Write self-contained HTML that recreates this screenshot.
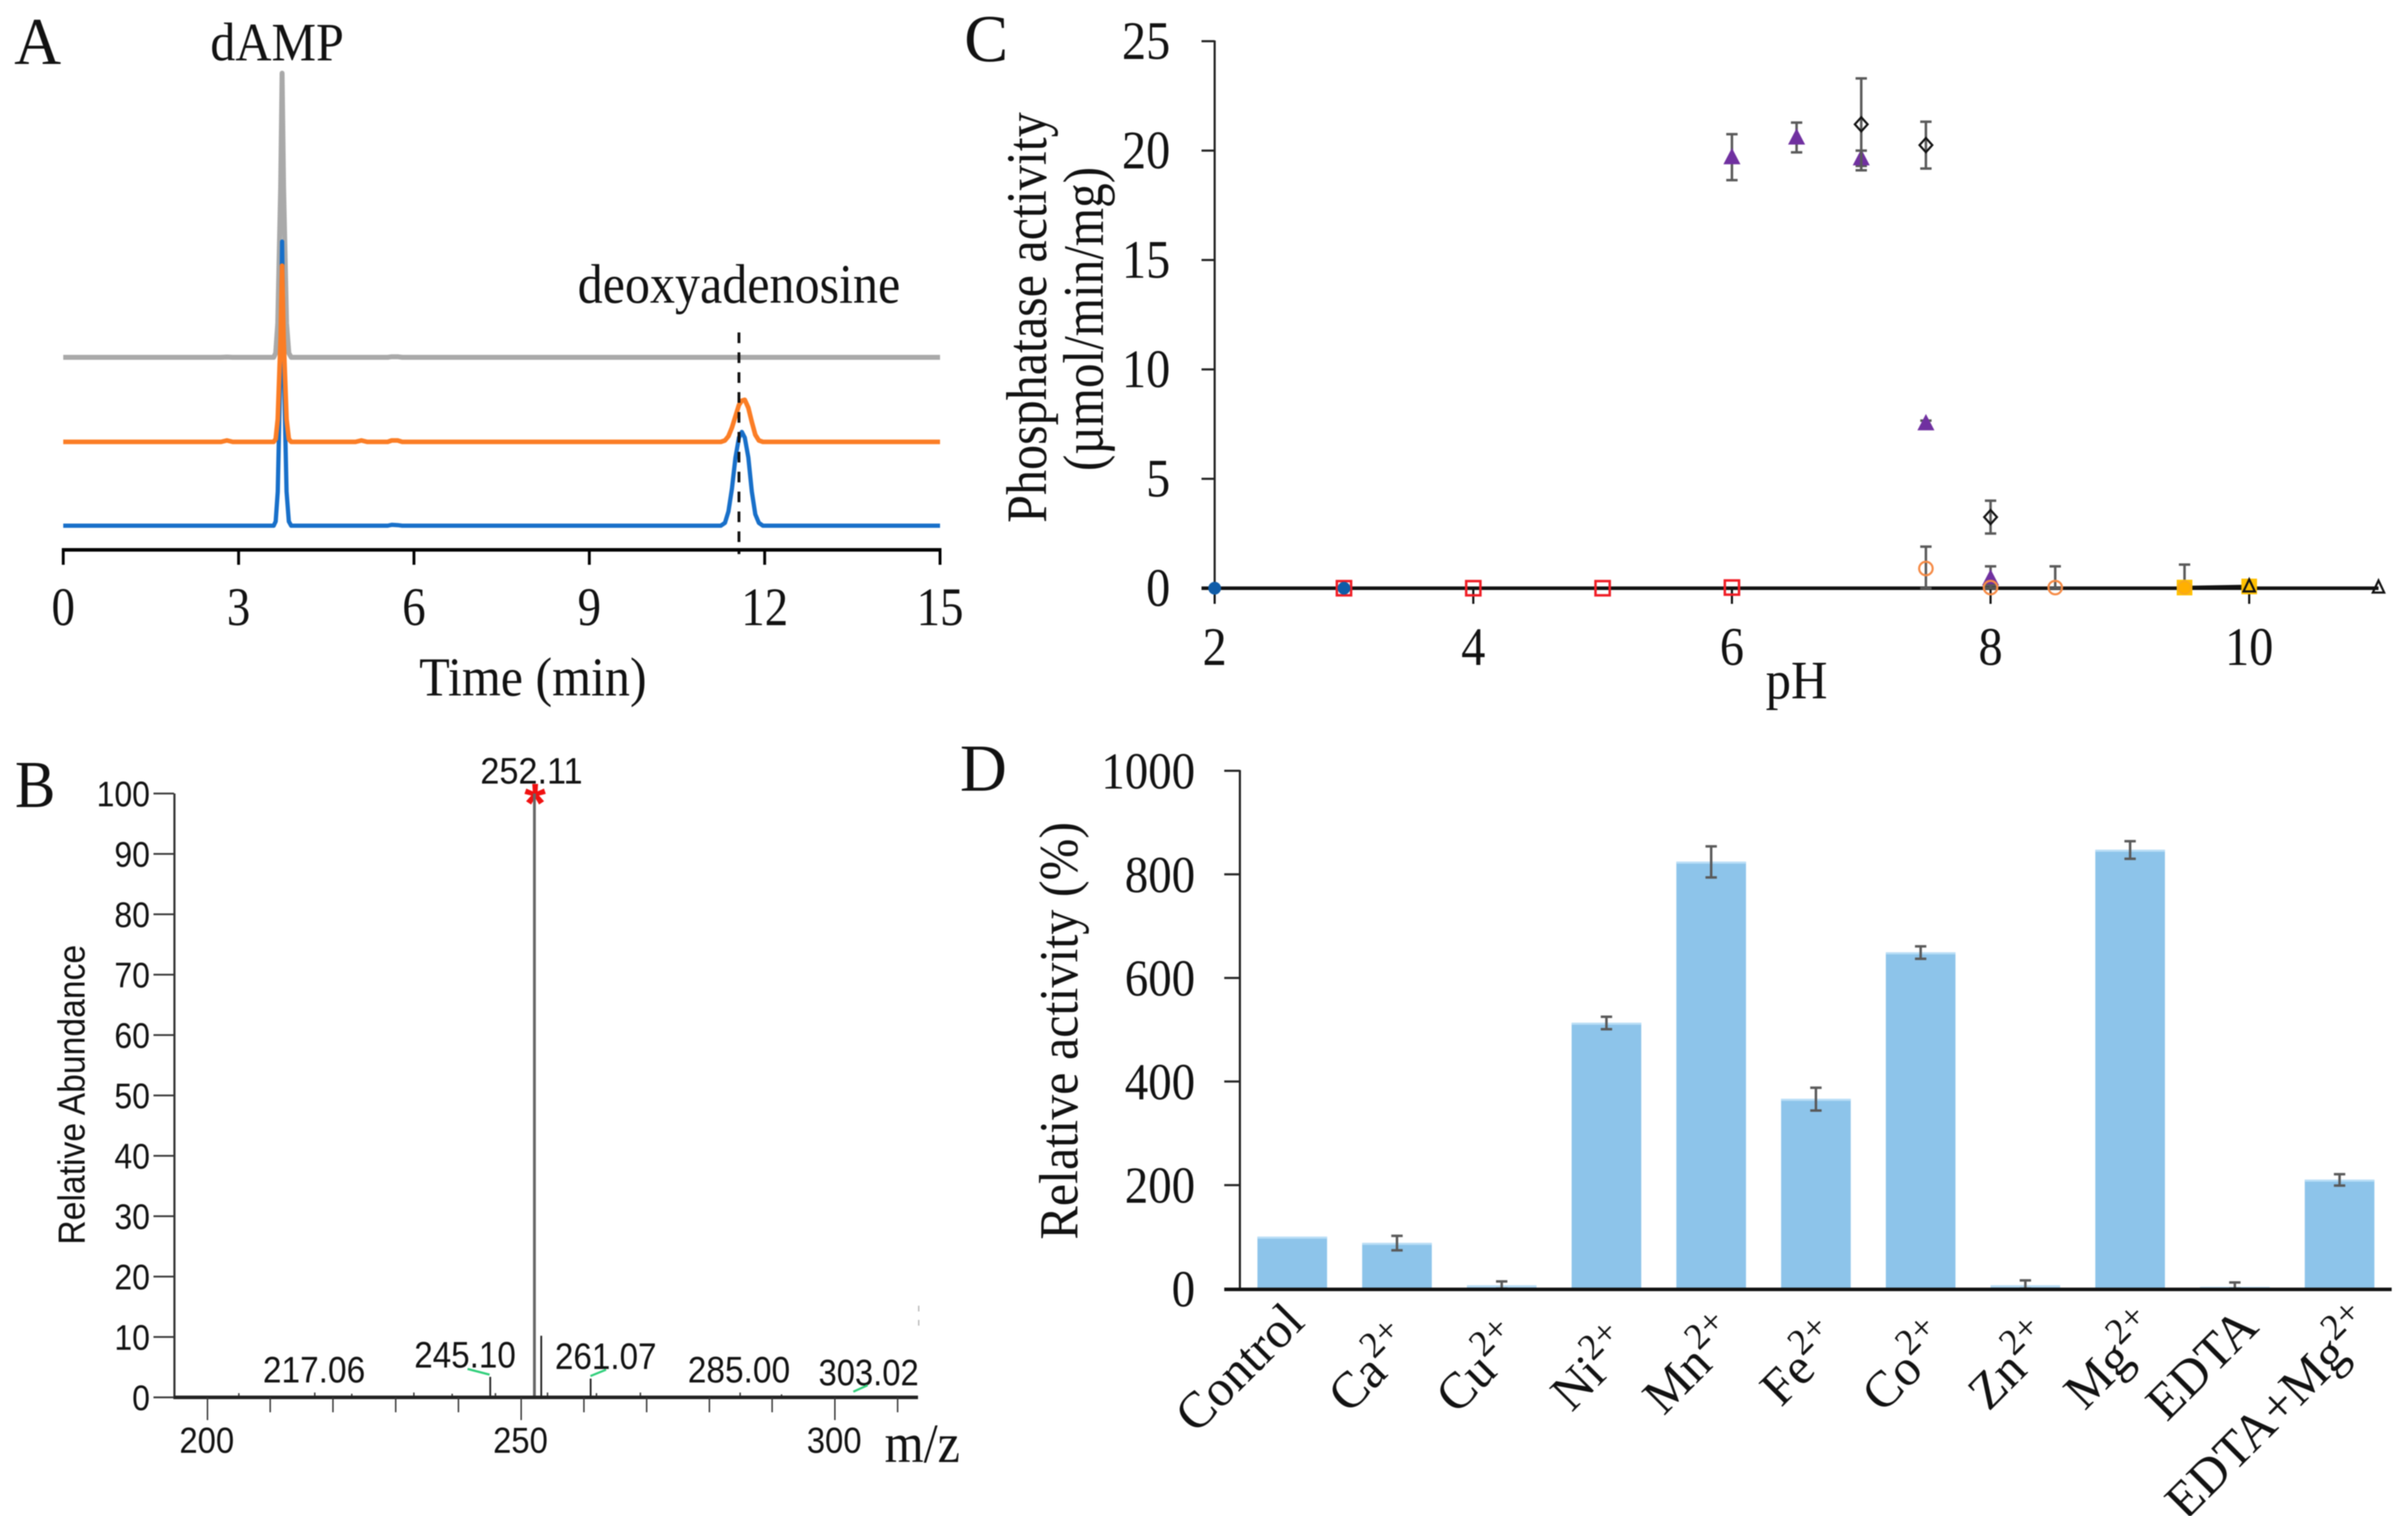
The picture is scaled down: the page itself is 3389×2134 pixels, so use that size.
<!DOCTYPE html>
<html lang="en">
<head>
<meta charset="utf-8">
<title>Phosphatase activity figure</title>
<style>
html,body{margin:0;padding:0;background:#fff;}
svg{display:block;filter:blur(0.8px);}
.serif{font-family:"Liberation Serif",serif;fill:#111;}
.sans{font-family:"Liberation Sans",sans-serif;fill:#111;}
</style>
</head>
<body>
<svg id="figure" xmlns="http://www.w3.org/2000/svg" width="3389" height="2134" viewBox="0 0 3389 2134">
  <rect x="0" y="0" width="3389" height="2134" fill="#fff"/>

  <g id="panel-a">
    <text class="serif" x="20" y="90" font-size="94" textLength="66" lengthAdjust="spacingAndGlyphs">A</text>
    <text class="serif" x="296" y="85" font-size="76" textLength="188" lengthAdjust="spacingAndGlyphs">dAMP</text>
    <text class="serif" x="813" y="426" font-size="78" textLength="454" lengthAdjust="spacingAndGlyphs">deoxyadenosine</text>
    <text class="serif" x="590" y="979" font-size="77" textLength="320" lengthAdjust="spacingAndGlyphs">Time (min)</text>
  </g>

  <g id="panel-b">
    <text class="serif" x="21" y="1136" font-size="94" textLength="57" lengthAdjust="spacingAndGlyphs">B</text>
    <text class="sans" transform="rotate(-90 119 1541)" x="119" y="1541" text-anchor="middle" font-size="53" textLength="422" lengthAdjust="spacingAndGlyphs">Relative Abundance</text>
    <text class="sans" x="676" y="1103" font-size="52" textLength="144" lengthAdjust="spacingAndGlyphs">252.11</text>
    <text class="sans" x="370" y="1946" font-size="52" textLength="144" lengthAdjust="spacingAndGlyphs">217.06</text>
    <text class="sans" x="583" y="1925" font-size="52" textLength="143" lengthAdjust="spacingAndGlyphs">245.10</text>
    <text class="sans" x="781" y="1927" font-size="52" textLength="143" lengthAdjust="spacingAndGlyphs">261.07</text>
    <text class="sans" x="968" y="1946" font-size="52" textLength="144" lengthAdjust="spacingAndGlyphs">285.00</text>
    <text class="sans" x="1152" y="1950" font-size="52" textLength="141" lengthAdjust="spacingAndGlyphs">303.02</text>
    <text class="serif" x="1245" y="2058" font-size="78" textLength="106" lengthAdjust="spacingAndGlyphs">m/z</text>
    <text x="753" y="1157" text-anchor="middle" font-family="Liberation Sans, sans-serif" font-weight="bold" font-size="78" fill="#f01010">*</text>
    <line x1="658" y1="1927" x2="689" y2="1935" stroke="#2fcf7a" stroke-width="3"/>
    <line x1="831" y1="1937" x2="853" y2="1928" stroke="#2fcf7a" stroke-width="3"/>
    <line x1="1201" y1="1959" x2="1221" y2="1950" stroke="#2fcf7a" stroke-width="3"/>
    <rect x="1292" y="1838" width="2" height="8" fill="#bbb"/>
    <rect x="1292" y="1858" width="2" height="8" fill="#bbb"/>
  </g>

  <g id="panel-c">
    <text class="serif" x="1357" y="86" font-size="94" textLength="62" lengthAdjust="spacingAndGlyphs">C</text>
    <text class="serif" transform="rotate(-90 1472 447)" x="1472" y="447" text-anchor="middle" font-size="80" textLength="578" lengthAdjust="spacingAndGlyphs">Phosphatase activity</text>
    <text class="serif" transform="rotate(-90 1552 449)" x="1552" y="449" text-anchor="middle" font-size="80" textLength="428" lengthAdjust="spacingAndGlyphs">(µmol/min/mg)</text>
    <text class="serif" x="2485" y="983" font-size="76" textLength="87" lengthAdjust="spacingAndGlyphs">pH</text>
  </g>

  <g id="panel-d">
    <text class="serif" x="1351" y="1113" font-size="94" textLength="66" lengthAdjust="spacingAndGlyphs">D</text>
    <text class="serif" transform="rotate(-90 1516 1451)" x="1516" y="1451" text-anchor="middle" font-size="77" textLength="588" lengthAdjust="spacingAndGlyphs">Relative activity (%)</text>
  </g>
</svg>

<script>
/* ---------- Panel A data ---------- */
const timeGrid = [0,2.7,2.8,2.9,3.6,3.635,3.67,3.72,3.744,3.77,3.82,3.86,3.9,5.0,5.1,5.2,5.55,5.62,5.72,5.8,11.25,11.32,11.38,11.44,11.5,11.56,11.61,11.66,11.72,11.78,11.84,11.9,11.97,15];
const signalGray = [0,0,0.1,0,0,1.5,12,60,100,60,12,1.5,0,0,0,0,0,0.2,0.2,0,0,0,0,0,0,0,0,0,0,0,0,0,0,0];
const signalBlue = [0,0,0,0,0,1.5,12,60,100,60,12,1.5,0,0,0,0,0,0.3,0.2,0,0,1,5,13,24,31,33,31,24,12,4,1,0,0];
const signalOrange = [0,0,0.5,0,0,1,8,37,62,37,8,1,0,0,0.5,0,0,0.5,0.5,0,0,0.5,2,5,9,13,14.5,14.8,12,7,2.5,0.5,0,0];
const offsetGray = 59.25;
const offsetOrange = 29.5;
const offsetBlue = 0;
const timeTicks = [0,3,6,9,12,15];
const dashedTime = 11.56;

/* ---------- Panel B data ---------- */
const abundanceTicks = [0,10,20,30,40,50,60,70,80,90,100];
const mzMajorTicks = [200,250,300];
const mzMinorTicks = [210,220,230,240,260,270,280,290,310];
const peakMz = [245.07,252.11,253.2,261.07];
const peakAbundance = [3.4,100,10.2,3.1];
const noiseMz = [205,217.1,223,232.9,239,245.9,254.2,262,269,284.9,291.5];
const noiseAbundance = [0.7,0.8,0.6,0.8,0.6,0.7,0.8,0.7,0.8,0.8,0.5];

/* ---------- Panel C data ---------- */
const phTicks = [2,4,6,8,10];
const activityTicks = [0,5,10,15,20,25];
const phRed = [3,4,5,6];
const activityRed = [0,0,0,0.03];
const phBlue = [2,3];
const activityBlue = [0,0];
const phPurple = [6,6.5,7,7.5,8];
const activityPurple = [19.7,20.6,19.65,7.54,0.45];
const errorPurple = [1.05,0.68,0.35,0.12,0.55];
const phDiamond = [7,7.5,8];
const activityDiamond = [21.2,20.25,3.25];
const errorDiamond = [2.1,1.07,0.75];
const phOrange = [7.5,8,8.5];
const activityOrange = [0.9,0.03,0.03];
const errorOrange = [1.0,0.1,0.97];
const phGold = [9.5,10];
const activityGold = [0.03,0.08];
const errorGold = [1.05,0.1];
const phAmberCircle = [9.5];
const activityAmberCircle = [0.03];
const phOpenTriangle = [10,11];
const activityOpenTriangle = [0.08,0.03];

/* ---------- Panel D data ---------- */
const metalNames = ['Control','Ca','Cu','Ni','Mn','Fe','Co','Zn','Mg','EDTA','EDTA+Mg'];
const metalCharges = ['','2+','2+','2+','2+','2+','2+','2+','2+','','2+'];
const relativeActivity = [100,88,6,513,824,366,649,6,847,3,210];
const relativeError = [0,14,8,12,30,22,12,10,17,9,11];
const relativeTicks = [0,200,400,600,800,1000];

/* Hand-placed category label layout (not chart data) */
const labelNudgeX = [20,28,35,41,43,41,45,44,46,36,54];
const labelEndY = [1864,1896,1894,1899,1884,1892,1892,1892,1877,1871,1871];

/* ---------- Axis functions ---------- */
const xA = t => 89 + t * (1234 / 15);
const yA = v => 740 - v * 4;
const xB = mz => 292 + (mz - 200) * 8.83;
const yB = a => 1967 - a * 8.5;
const xC = ph => 1709.5 + (ph - 2) * 182;
const yC = v => 828 - v * 30.8;
const xDBand = i => 1745 + 147.4 * (i + 0.5);
const yD = v => 1814 - v * 0.729;

const NS = 'http://www.w3.org/2000/svg';
const panelA = document.getElementById('panel-a');
const panelB = document.getElementById('panel-b');
const panelC = document.getElementById('panel-c');
const panelD = document.getElementById('panel-d');

function make(parent, tag, props) {
  const el = document.createElementNS(NS, tag);
  for (const k in props) el.setAttribute(k, props[k]);
  parent.appendChild(el);
  return el;
}
function seg(parent, x1, y1, x2, y2, color, width) {
  return make(parent, 'line', {x1, y1, x2, y2, stroke: color, 'stroke-width': width});
}
function label(parent, cls, x, y, size, anchor, txt, perChar) {
  const el = make(parent, 'text', {class: cls, x, y, 'font-size': size, 'text-anchor': anchor});
  el.textContent = txt;
  if (perChar) {
    el.setAttribute('textLength', perChar * txt.length);
    el.setAttribute('lengthAdjust', 'spacingAndGlyphs');
  }
  return el;
}
function trace(parent, values, offset, color, width) {
  const pts = timeGrid.map((t, i) => xA(t).toFixed(1) + ',' + yA(values[i] + offset).toFixed(1)).join(' ');
  return make(parent, 'polyline', {points: pts, fill: 'none', stroke: color, 'stroke-width': width, 'stroke-linejoin': 'round'});
}
function errorBar(parent, x, top, bottom, half, width) {
  const g = make(parent, 'g', {stroke: '#595959', 'stroke-width': width});
  make(g, 'line', {x1: x, y1: top, x2: x, y2: bottom});
  make(g, 'line', {x1: x - half, y1: top, x2: x + half, y2: top});
  make(g, 'line', {x1: x - half, y1: bottom, x2: x + half, y2: bottom});
  return g;
}

/* ---------- Panel A ---------- */
{
  const gray = trace(panelA, signalGray, offsetGray, '#a9a9a9', 7);
  
  
  const blue = trace(panelA, signalBlue, offsetBlue, '#176fc9', 6);
  
  
  const orange = trace(panelA, signalOrange, offsetOrange, '#fb7d25', 6.5);
  
  

  const dash = seg(panelA, xA(dashedTime), 468, xA(dashedTime), 780, '#111', 4);
  dash.setAttribute('stroke-dasharray', '15 13');
  
  

  const axis = seg(panelA, xA(0) - 2, 774, xA(15) + 2, 774, '#000', 5);
  
  
  timeTicks.forEach(t => {
    const tick = seg(panelA, xA(t), 774, xA(t), 795, '#000', 4);
    
    
    const txt = label(panelA, 'serif', xA(t), 880, 76, 'middle', String(t), 33);
    
    
  });
}

/* ---------- Panel B ---------- */
{
  peakMz.forEach((mz, i) => {
    const wide = peakAbundance[i] > 50;
    const p = seg(panelB, xB(mz), yB(peakAbundance[i]), xB(mz), yB(0), wide ? '#666' : '#222', wide ? 4 : 2.5);
    
    
  });
  noiseMz.forEach((mz, i) => {
    const p = seg(panelB, xB(mz), yB(noiseAbundance[i]), xB(mz), yB(0), '#333', 2);
    
    
  });
  const yAxis = seg(panelB, 245.5, yB(100), 245.5, yB(0) + 2, '#333', 3);
  
  
  const xAxis = seg(panelB, 244, yB(0), 1292, yB(0), '#222', 5);
  
  
  abundanceTicks.forEach(a => {
    const tick = seg(panelB, 216, yB(a), 245, yB(a), '#333', 2.5);
    
    
    const txt = label(panelB, 'sans', 211, yB(a) + 18, 50, 'end', String(a), 25);
    
    
  });
  mzMajorTicks.forEach(mz => {
    const tick = seg(panelB, xB(mz), yB(0), xB(mz), 1999, '#333', 2);
    
    
    const txt = label(panelB, 'sans', xB(mz) - 1, 2045, 51, 'middle', String(mz), 25.7);
    
    
  });
  mzMinorTicks.forEach(mz => {
    const tick = seg(panelB, xB(mz), yB(0), xB(mz), 1988, '#333', 2);
    
    
  });
}

/* ---------- Panel C ---------- */
{
  const yAxis = seg(panelC, xC(2), yC(25) - 1, xC(2), yC(0), '#222', 3);
  
  
  activityTicks.forEach(v => {
    const tick = seg(panelC, 1691, yC(v), xC(2), yC(v), '#222', 3);
    
    
    const txt = label(panelC, 'serif', 1647, yC(v) + 25, 76, 'end', String(v), 34);
    
    
  });
  phTicks.forEach(p => {
    const tick = seg(panelC, xC(p), yC(0), xC(p), 850, '#111', 3);
    
    
    const txt = label(panelC, 'serif', xC(p), 936, 76, 'middle', String(p), 34);
    
    
  });
  const zero = seg(panelC, 1691, yC(0), xC(11), yC(0), '#111', 5);
  
  

  const goldLine = make(panelC, 'polyline', {
    points: phGold.map((p, i) => xC(p) + ',' + yC(activityGold[i])).join(' '),
    fill: 'none', stroke: '#111', 'stroke-width': 5
  });
  
  

  const eb = (p, v, e) => errorBar(panelC, xC(p), yC(v + e), yC(Math.max(v - e, 0)), 8, 3.5);

  phPurple.forEach((p, i) => {
    const e = eb(p, activityPurple[i], errorPurple[i]);
    
    
    const cx = xC(p), cy = yC(activityPurple[i]);
    const m = make(panelC, 'polygon', {
      points: (cx - 12) + ',' + (cy + 10) + ' ' + cx + ',' + (cy - 13) + ' ' + (cx + 12) + ',' + (cy + 10),
      fill: '#7030a0'
    });
    
    
  });
  phDiamond.forEach((p, i) => {
    const e = eb(p, activityDiamond[i], errorDiamond[i]);
    
    
    const cx = xC(p), cy = yC(activityDiamond[i]);
    const m = make(panelC, 'polygon', {
      points: (cx - 9) + ',' + cy + ' ' + cx + ',' + (cy - 10) + ' ' + (cx + 9) + ',' + cy + ' ' + cx + ',' + (cy + 10),
      fill: 'none', stroke: '#111', 'stroke-width': 3
    });
    
    
  });
  phRed.forEach((p, i) => {
    const cx = xC(p), cy = yC(activityRed[i]);
    const m = make(panelC, 'rect', {x: cx - 10, y: cy - 10, width: 20, height: 20, fill: 'none', stroke: '#f01c24', 'stroke-width': 3.5});
    
    
  });
  phBlue.forEach((p, i) => {
    const m = make(panelC, 'circle', {cx: xC(p), cy: yC(activityBlue[i]), r: 9, fill: '#0f5ca8'});
    
    
  });
  phOrange.forEach((p, i) => {
    const e = eb(p, activityOrange[i], errorOrange[i]);
    
    
    const m = make(panelC, 'circle', {cx: xC(p), cy: yC(activityOrange[i]), r: 9.5, fill: 'none', stroke: '#f58a45', 'stroke-width': 3});
    
    
  });
  phGold.forEach((p, i) => {
    const e = eb(p, activityGold[i], errorGold[i]);
    
    
    const cx = xC(p), cy = yC(activityGold[i]);
    const m = make(panelC, 'rect', {x: cx - 11, y: cy - 11, width: 22, height: 22, fill: '#ffc000'});
    
    
  });
  phAmberCircle.forEach((p, i) => {
    const m = make(panelC, 'circle', {cx: xC(p), cy: yC(activityAmberCircle[i]), r: 9, fill: '#ffb000', stroke: '#f5a623', 'stroke-width': 2});
    
    
  });
  phOpenTriangle.forEach((p, i) => {
    const cx = xC(p), cy = yC(activityOpenTriangle[i]);
    const m = make(panelC, 'polygon', {
      points: (cx - 8) + ',' + (cy + 7) + ' ' + cx + ',' + (cy - 10) + ' ' + (cx + 8) + ',' + (cy + 7),
      fill: 'none', stroke: '#111', 'stroke-width': 3
    });
    
    
  });
}

/* ---------- Panel D ---------- */
{
  const barWidth = 98;
  relativeActivity.forEach((v, i) => {
    const cx = xDBand(i);
    const bar = make(panelD, 'rect', {x: cx - barWidth / 2, y: yD(v), width: barWidth, height: yD(0) - yD(v), fill: '#8dc4ea'});
    
    
    const edge = seg(panelD, cx - barWidth / 2, yD(v) + 1, cx + barWidth / 2, yD(v) + 1, '#b9def6', 3);
    
    
  });
  relativeActivity.forEach((v, i) => {
    if (relativeError[i] === 0) return;
    const e = errorBar(panelD, xDBand(i), yD(v + relativeError[i]), yD(Math.max(v - relativeError[i], 0)), 8, 3.5);
    
    
  });
  const yAxis = seg(panelD, 1745, yD(1000) - 1, 1745, yD(0), '#222', 3);
  
  
  relativeTicks.forEach(v => {
    const tick = seg(panelD, 1723, yD(v), 1745, yD(v), '#222', 3);
    
    
    const txt = label(panelD, 'serif', 1682, yD(v) + 25, 73, 'end', String(v), 33);
    
    
  });
  const xAxis = seg(panelD, 1723, yD(0) + 1, 3366, yD(0) + 1, '#111', 5);
  
  
  metalNames.forEach((name, i) => {
    const ax = xDBand(i) + labelNudgeX[i], ay = labelEndY[i];
    const t = make(panelD, 'text', {class: 'serif', x: ax, y: ay, 'font-size': 72, 'text-anchor': 'end', transform: 'rotate(-45 ' + ax + ' ' + ay + ')'});
    
    
    t.appendChild(document.createTextNode(name));
    if (metalCharges[i]) {
      const sup = make(t, 'tspan', {'font-size': 52, dy: -30});
      
      
      sup.textContent = metalCharges[i];
    }
  });
}
</script>
</body>
</html>
